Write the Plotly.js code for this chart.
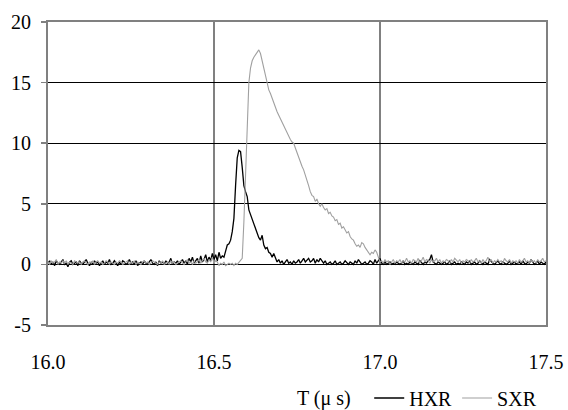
<!DOCTYPE html>
<html>
<head>
<meta charset="utf-8">
<script src="https://cdn.plot.ly/plotly-3.0.1.min.js"></script>
<style>html,body{margin:0;padding:0;background:#fff;}#chart{width:568px;height:410px;}</style>
</head>
<body>
<div id="chart"></div>
<script>
// Sampling grid (µs)
var tStart = 16.0;
var tStep = 0.005;

// HXR signal (arb. units), one value per sample
var hxrValues = [
  0.1,0.3,0.0,0.2,-0.1,0.3,0.1,0.0,0.2,0.4,
  0.0,0.1,-0.2,0.2,0.3,0.0,0.1,0.2,-0.1,0.3,
  0.1,0.0,0.2,0.4,0.1,-0.1,0.2,0.0,0.3,0.1,
  0.2,-0.1,0.1,0.3,0.0,0.2,0.1,0.4,0.0,0.1,
  0.3,0.1,-0.1,0.2,0.0,0.3,0.2,0.0,0.1,0.4,
  0.1,0.2,0.0,0.3,-0.1,0.1,0.2,0.0,0.3,0.1,
  0.0,0.2,0.4,0.1,0.0,0.2,-0.1,0.3,0.1,0.2,
  0.0,0.3,0.1,0.2,0.5,0.0,0.2,0.1,0.3,0.0,
  0.2,0.4,0.1,0.3,0.0,0.5,0.2,0.6,0.1,0.3,
  0.5,0.1,0.7,0.2,0.4,0.8,0.2,0.6,0.3,0.9,
  0.4,0.8,0.3,1.0,0.5,0.7,0.6,1.1,1.6,1.7,
  2.0,2.7,3.8,6.5,8.8,9.4,9.3,8.0,6.5,6.0,
  5.6,4.5,4.1,3.7,3.4,3.0,2.6,2.2,2.0,2.4,
  1.6,1.3,1.4,1.0,0.9,0.6,0.9,0.5,0.2,0.4,
  0.1,0.3,0.0,0.2,0.4,0.1,0.2,0.0,0.3,0.1,
  0.2,0.4,0.1,0.3,0.5,0.2,0.4,0.5,0.2,0.3,
  0.5,0.1,0.4,0.2,0.5,0.3,0.1,0.3,0.0,0.1,
  0.2,0.0,0.1,0.3,0.0,0.1,0.2,0.0,0.1,0.3,
  0.1,0.0,0.2,0.1,0.0,0.3,0.1,0.4,0.2,0.0,
  0.1,0.2,0.0,0.1,0.3,0.2,0.0,0.4,0.1,0.3,
  0.5,0.1,0.0,0.2,0.0,0.1,0.2,0.0,0.1,0.0,
  0.2,0.1,0.0,0.1,0.3,0.0,0.1,0.0,0.2,0.1,
  0.0,0.2,0.1,0.0,0.3,0.1,0.0,0.2,0.1,0.3,
  0.4,0.8,0.2,0.1,0.0,0.2,0.1,0.0,0.1,0.2,
  0.0,0.1,0.3,0.0,0.1,0.2,0.0,0.1,0.0,0.2,
  0.1,0.0,0.2,0.1,0.3,0.0,0.1,0.2,0.0,0.1,
  0.3,0.1,0.0,0.2,0.1,0.0,0.4,0.2,0.1,0.0,
  0.2,0.3,0.1,0.0,0.2,0.1,0.0,0.1,0.3,0.0,
  0.1,0.2,0.0,0.1,0.2,0.0,0.3,0.1,0.0,0.2,
  0.1,0.4,0.2,0.0,0.1,0.3,0.0,0.2,0.1,0.0,0.2
];

// SXR signal (arb. units), one value per sample
var sxrValues = [
  0.2,0.0,0.3,0.1,0.2,0.4,0.0,0.2,0.1,0.3,
  0.1,0.3,0.0,0.2,0.1,0.0,0.3,0.2,0.1,0.2,
  0.0,0.2,0.3,0.1,0.0,0.2,0.1,0.3,0.0,0.2,
  0.3,0.1,0.2,0.0,0.1,0.3,0.2,0.0,0.2,0.1,
  0.0,0.2,0.1,0.3,0.2,0.0,0.1,0.2,0.3,0.0,
  0.2,0.1,0.3,0.0,0.2,0.1,0.0,0.2,0.3,0.1,
  0.2,0.0,0.1,0.3,0.2,0.1,0.0,0.2,0.1,0.3,
  0.0,0.1,0.2,0.0,0.3,0.1,0.2,0.0,0.1,0.2,
  0.3,0.1,0.0,0.2,0.4,0.1,0.2,0.0,0.3,0.1,
  0.2,0.4,0.1,0.3,0.5,0.2,0.1,0.4,0.2,0.6,
  0.1,0.3,0.2,-0.1,0.1,0.0,0.2,-0.1,0.0,0.1,
  0.0,0.1,-0.1,0.1,0.0,
  0.2,0.3,0.5,3.5,8.0,
  12.0,15.0,16.2,16.8,17.1,17.3,17.6,17.7,17.4,16.8,
  16.0,15.4,14.9,14.4,14.1,13.7,13.3,13.0,12.6,12.3,
  12.0,11.7,11.4,11.2,10.9,10.6,10.3,10.1,10.0,9.6,
  9.2,8.8,8.5,8.1,7.8,7.4,6.9,6.5,6.0,5.7,
  5.6,5.2,5.4,5.0,4.8,5.0,4.7,4.5,4.6,4.2,
  4.3,4.0,3.9,3.6,3.7,3.3,3.4,3.0,3.1,2.8,
  2.6,2.7,2.3,2.1,2.0,1.7,1.5,1.6,1.4,1.8,
  1.7,1.4,1.2,0.9,0.8,1.0,0.9,1.2,1.0,0.6,
  0.2,
  0.3,0.1,0.4,0.2,0.3,0.0,0.2,0.4,0.1,0.3,
  0.2,0.4,0.1,0.3,0.2,0.5,0.2,0.3,0.1,0.4,
  0.3,0.2,0.5,0.1,0.3,0.6,0.2,0.4,0.3,0.1,
  0.4,0.2,0.3,0.5,0.2,0.4,0.1,0.3,0.2,0.4,
  0.3,0.1,0.4,0.2,0.5,0.3,0.2,0.4,0.1,0.3,
  0.2,0.4,0.3,0.1,0.4,0.2,0.3,0.5,0.2,0.3,
  0.1,0.4,0.2,0.3,0.6,0.2,0.4,0.1,0.3,0.2,
  0.4,0.2,0.3,0.1,0.5,0.3,0.2,0.4,0.1,0.3,
  0.2,0.3,0.1,0.4,0.2,0.3,0.5,0.2,0.3,0.1,
  0.4,0.2,0.3,0.1,0.4,0.2,0.3,0.5,0.2,0.3
];

var xTickVals = [16.0, 16.5, 17.0, 17.5];
var xTickText = ['16.0', '16.5', '17.0', '17.5'];
var yTickVals = [-5, 0, 5, 10, 15, 20];
var yTickText = ['-5', '0', '5', '10', '15', '20'];
var seriesNames = ['HXR', 'SXR'];
var xTitle = 'T (\u03bc s)';

var times = hxrValues.map(function (_, i) { return +(tStart + i * tStep).toFixed(3); });

var font = "'Liberation Serif', 'Times New Roman', serif";

var traces = [
  { x: times, y: hxrValues, name: seriesNames[0], type: 'scatter', mode: 'lines',
    line: { color: '#000000', width: 1.3 } },
  { x: times, y: sxrValues, name: seriesNames[1], type: 'scatter', mode: 'lines',
    line: { color: '#a0a0a0', width: 1.1 } }
];

var layout = {
  width: 568, height: 410,
  margin: { l: 48, r: 22, t: 22, b: 85, pad: 0, autoexpand: false },
  paper_bgcolor: '#ffffff', plot_bgcolor: '#ffffff',
  font: { family: font, size: 20, color: '#000000' },
  showlegend: true,
  legend: { orientation: 'h', x: 0.645, xanchor: 'left', y: -0.241, yanchor: 'middle',
    font: { family: font, size: 20, color: '#000' }, bgcolor: 'rgba(0,0,0,0)', itemwidth: 30 },
  xaxis: {
    range: [16.0, 17.5], tickmode: 'array', tickvals: xTickVals, ticktext: xTickText,
    showgrid: true, gridcolor: '#808080', gridwidth: 1.5,
    showline: true, linecolor: '#808080', linewidth: 2, mirror: true,
    ticks: '', zeroline: false, ticklabelstandoff: 18,
    tickfont: { family: font, size: 20, color: '#000' }
  },
  yaxis: {
    range: [-5, 20], tickmode: 'array', tickvals: yTickVals, ticktext: yTickText,
    showgrid: true, gridcolor: '#000000', gridwidth: 1,
    zeroline: true, zerolinecolor: '#000000', zerolinewidth: 1,
    showline: true, linecolor: '#808080', linewidth: 2, mirror: true,
    ticks: 'outside', ticklen: 5, tickcolor: '#808080', tickwidth: 1.5,
    ticklabelstandoff: 6,
    tickfont: { family: font, size: 20, color: '#000' }
  },
  annotations: [
    { text: xTitle, xref: 'paper', yref: 'paper', x: 0.554, y: -0.241,
      xanchor: 'center', yanchor: 'middle', showarrow: false,
      font: { family: font, size: 20, color: '#000' } }
  ]
};

Plotly.newPlot('chart', traces, layout, { displayModeBar: false, staticPlot: true });
</script>
</body>
</html>
